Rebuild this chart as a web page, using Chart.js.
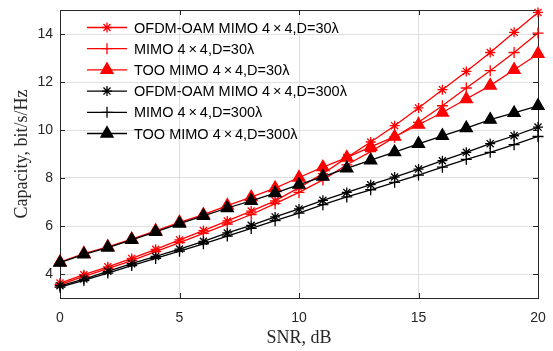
<!DOCTYPE html>
<html>
<head>
<meta charset="utf-8">
<script src="https://cdn.jsdelivr.net/npm/chart.js@4.4.1/dist/chart.umd.min.js"></script>
<style>
  html, body { margin: 0; padding: 0; background: #fff; }
</style>
</head>
<body>
<canvas id="capChart" width="553" height="351"></canvas>
<script>
// SNR points (dB)
const snr = [0, 1, 2, 3, 4, 5, 6, 7, 8, 9, 10, 11, 12, 13, 14, 15, 16, 17, 18, 19, 20];

// capacity, bit/s/Hz
const ofdmOam30 = [3.62, 3.97, 4.30, 4.65, 5.03, 5.42, 5.81, 6.21, 6.62, 7.05, 7.60, 8.18, 8.85, 9.50, 10.18, 10.92, 11.68, 12.44, 13.23, 14.07, 14.90];
const mimo30 = [3.56, 3.90, 4.22, 4.56, 4.93, 5.31, 5.69, 6.08, 6.48, 6.93, 7.40, 7.92, 8.55, 9.10, 9.70, 10.32, 11.01, 11.75, 12.47, 13.23, 14.04];
const too30 = [4.50, 4.85, 5.13, 5.45, 5.80, 6.15, 6.47, 6.85, 7.20, 7.58, 8.02, 8.45, 8.85, 9.30, 9.72, 10.22, 10.73, 11.29, 11.85, 12.51, 13.17];
const ofdmOam300 = [3.51, 3.79, 4.11, 4.43, 4.73, 5.04, 5.36, 5.71, 6.03, 6.38, 6.71, 7.07, 7.40, 7.72, 8.04, 8.37, 8.72, 9.07, 9.43, 9.76, 10.12];
const mimo300 = [3.45, 3.73, 4.04, 4.35, 4.65, 4.95, 5.26, 5.58, 5.90, 6.22, 6.54, 6.89, 7.21, 7.51, 7.82, 8.12, 8.45, 8.78, 9.07, 9.39, 9.73];
const too300 = [4.47, 4.82, 5.10, 5.42, 5.76, 6.10, 6.42, 6.75, 7.05, 7.37, 7.72, 8.06, 8.40, 8.74, 9.08, 9.42, 9.76, 10.08, 10.43, 10.71, 11.01];

const seriesLabels = [
  "OFDM-OAM MIMO 4\u2009×\u20094,D=30λ",
  "MIMO 4\u2009×\u20094,D=30λ",
  "TOO MIMO 4\u2009×\u20094,D=30λ",
  "OFDM-OAM MIMO 4\u2009×\u20094,D=300λ",
  "MIMO 4\u2009×\u20094,D=300λ",
  "TOO MIMO 4\u2009×\u20094,D=300λ"
];
const seriesValues = [ofdmOam30, mimo30, too30, ofdmOam300, mimo300, too300];

const xTicks = [0, 5, 10, 15, 20];
const yTicks = [4, 6, 8, 10, 12, 14];

const RED = "#ff0000";
const BLACK = "#000000";
const AXIS = "#262626";
const styles = [
  { color: RED, marker: "star", r: 5 },
  { color: RED, marker: "cross", r: 5.5 },
  { color: RED, marker: "triangle", r: 7 },
  { color: BLACK, marker: "star", r: 5 },
  { color: BLACK, marker: "cross", r: 5.5 },
  { color: BLACK, marker: "triangle", r: 7 }
];

const datasets = seriesValues.map((vals, i) => ({
  label: seriesLabels[i],
  data: vals.map((v, k) => ({ x: snr[k], y: v })),
  borderColor: styles[i].color,
  backgroundColor: styles[i].color,
  borderWidth: 1.3,
  pointStyle: styles[i].marker,
  pointRadius: styles[i].r,
  pointBorderWidth: 1.3,
  pointBorderColor: styles[i].color,
  pointBackgroundColor: styles[i].color,
  tension: 0,
  clip: false,
  order: seriesValues.length - 1 - i
}));

// box around the axes with inward ticks, matlab style
const axesBox = {
  id: "axesBox",
  beforeDatasetsDraw(chart) {
    const { ctx, chartArea: a, scales } = chart;
    const tl = 5;
    ctx.save();
    ctx.strokeStyle = AXIS;
    ctx.lineWidth = 1;
    ctx.beginPath();
    xTicks.forEach(t => {
      const px = Math.round(scales.x.getPixelForValue(t)) + 0.5;
      ctx.moveTo(px, a.bottom); ctx.lineTo(px, a.bottom - tl);
      ctx.moveTo(px, a.top); ctx.lineTo(px, a.top + tl);
    });
    yTicks.forEach(t => {
      const py = Math.round(scales.y.getPixelForValue(t)) + 0.5;
      ctx.moveTo(a.left, py); ctx.lineTo(a.left + tl, py);
      ctx.moveTo(a.right, py); ctx.lineTo(a.right - tl, py);
    });
    ctx.stroke();
    ctx.strokeRect(Math.round(a.left) + 0.5, Math.round(a.top) + 0.5,
      Math.round(a.right - a.left), Math.round(a.bottom - a.top));
    ctx.restore();
  }
};

// legend: line with marker, then label, no box
const lineLegend = {
  id: "lineLegend",
  afterDatasetsDraw(chart) {
    const { ctx } = chart;
    const x0 = 87, x1 = 127, textX = 134, y0 = 27.5, step = 21.2;
    ctx.save();
    ctx.font = "14.5px 'Liberation Sans', Arial, sans-serif";
    ctx.textBaseline = "middle";
    chart.data.datasets.forEach((ds, i) => {
      const y = y0 + i * step;
      ctx.strokeStyle = ds.borderColor;
      ctx.lineWidth = ds.borderWidth;
      ctx.beginPath();
      ctx.moveTo(x0, y); ctx.lineTo(x1, y);
      ctx.stroke();
      ctx.fillStyle = ds.pointBackgroundColor;
      ctx.lineWidth = ds.pointBorderWidth;
      Chart.helpers.drawPoint(ctx, { pointStyle: ds.pointStyle, radius: ds.pointRadius, rotation: 0, borderWidth: ds.pointBorderWidth }, (x0 + x1) / 2, y);
      ctx.fillStyle = "#000";
      ctx.fillText(ds.label, textX, y + 1);
    });
    ctx.restore();
  }
};

new Chart(document.getElementById("capChart"), {
  type: "line",
  data: { datasets: datasets },
  options: {
    responsive: false,
    devicePixelRatio: 1,
    animation: false,
    layout: { padding: { left: 0, top: 10, right: 15, bottom: 0 } },
    plugins: {
      legend: { display: false },
      tooltip: { enabled: false }
    },
    scales: {
      x: {
        type: "linear",
        min: 0,
        max: 20,
        afterBuildTicks: s => { s.ticks = xTicks.map(v => ({ value: v })); },
        afterFit: s => { s.height = 53; s.paddingLeft = 0; s.paddingRight = 0; },
        grid: { color: "#dfdfdf", drawTicks: false },
        border: { display: false },
        ticks: {
          padding: 12,
          color: AXIS,
          font: { family: "'Liberation Sans', Arial, sans-serif", size: 14 }
        },
        title: {
          display: true,
          text: "SNR, dB",
          color: AXIS,
          padding: { top: 0, bottom: 2 },
          font: { family: "'Liberation Serif', 'Times New Roman', serif", size: 18 }
        }
      },
      y: {
        type: "linear",
        min: 3,
        max: 15,
        afterBuildTicks: s => { s.ticks = yTicks.map(v => ({ value: v })); },
        afterFit: s => { s.width = 60; s.paddingTop = 0; s.paddingBottom = 0; },
        grid: { color: "#dfdfdf", drawTicks: false },
        border: { display: false },
        ticks: {
          padding: 7,
          color: AXIS,
          font: { family: "'Liberation Sans', Arial, sans-serif", size: 14 }
        },
        title: {
          display: true,
          text: "Capacity, bit/s/Hz",
          color: AXIS,
          padding: { top: 11, bottom: 0 },
          font: { family: "'Liberation Serif', 'Times New Roman', serif", size: 18 }
        }
      }
    }
  },
  plugins: [axesBox, lineLegend]
});
</script>
</body>
</html>
